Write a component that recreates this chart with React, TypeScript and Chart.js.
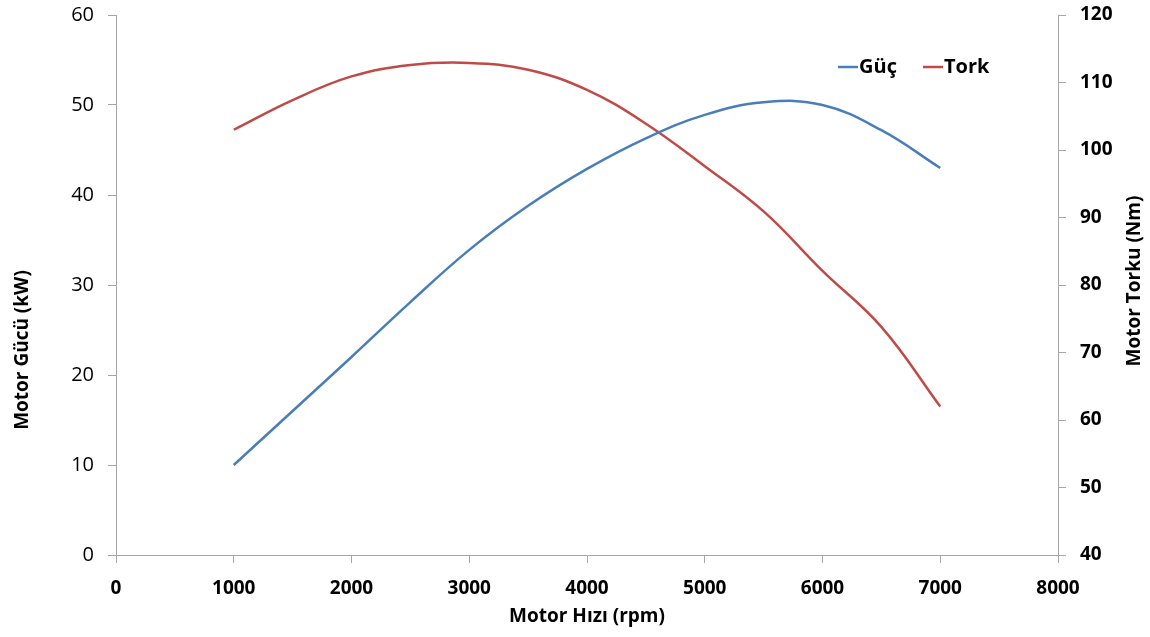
import React, { useEffect, useRef } from "react";
import { Chart, registerables } from "chart.js";

Chart.register(...registerables);

const rpm = [1000, 1500, 2000, 2500, 3000, 3500, 4000, 4500, 5000, 5500, 6000, 6500, 7000];
const powerKW = [10.0, 16.0, 22.0, 28.1, 33.9, 38.8, 42.9, 46.3, 48.9, 50.3, 50.0, 47.2, 43.0];
const torqueNm = [103.0, 107.4, 110.9, 112.6, 112.9, 111.9, 108.9, 103.9, 97.6, 90.9, 82.1, 73.8, 62.0];
const seriesNames = ["Güç", "Tork"];
const xTitle = "Motor Hızı (rpm)";
const yLeftTitle = "Motor Gücü (kW)";
const yRightTitle = "Motor Torku (Nm)";

const BLUE = "#4A7EBB";
const RED = "#BE4B48";
const AXIS = "#A6A6A6";
const FONT = '"Open Sans", "Noto Sans", sans-serif';

const overlayPlugin = {
  id: "overlay",
  afterDraw(chart: any) {
    const ctx = chart.ctx;
    ctx.save();
    ctx.fillStyle = "#000";
    ctx.font = `bold 19px ${FONT}`;
    ctx.textAlign = "center";
    ctx.textBaseline = "middle";
    const ca = chart.chartArea;
    ctx.fillText(xTitle, (ca.left + ca.right) / 2, 617);
    ctx.save();
    ctx.translate(23, 350);
    ctx.rotate(-Math.PI / 2);
    ctx.fillText(yLeftTitle, 0, 0);
    ctx.restore();
    ctx.save();
    ctx.translate(1135, 281);
    ctx.rotate(-Math.PI / 2);
    ctx.fillText(yRightTitle, 0, 0);
    ctx.restore();
    // legend
    const items = [
      { x: 838, color: chart.data.datasets[0].borderColor, label: chart.data.datasets[0].label },
      { x: 923, color: chart.data.datasets[1].borderColor, label: chart.data.datasets[1].label },
    ];
    ctx.textAlign = "left";
    ctx.font = `bold 20px ${FONT}`;
    for (const it of items) {
      ctx.strokeStyle = it.color;
      ctx.lineWidth = 2.5;
      ctx.beginPath();
      ctx.moveTo(it.x, 67);
      ctx.lineTo(it.x + 20, 67);
      ctx.stroke();
      ctx.fillText(it.label, it.x + 21, 67);
    }
    ctx.restore();
  },
};

export default function App() {
  const ref = useRef<HTMLCanvasElement>(null);
  useEffect(() => {
    if (!ref.current) return;
    const chart = new Chart(ref.current, {
      type: "line",
      data: {
        datasets: [
          {
            label: seriesNames[0],
            data: rpm.map((r, i) => ({ x: r, y: powerKW[i] })),
            borderColor: BLUE,
            backgroundColor: BLUE,
            borderWidth: 2.5,
            pointRadius: 0,
            tension: 0.4,
            yAxisID: "y",
          },
          {
            label: seriesNames[1],
            data: rpm.map((r, i) => ({ x: r, y: torqueNm[i] })),
            borderColor: RED,
            backgroundColor: RED,
            borderWidth: 2.5,
            pointRadius: 0,
            tension: 0.4,
            yAxisID: "y1",
          },
        ],
      },
      options: {
        responsive: false,
        animation: false,
        layout: { padding: { top: 15, left: 0, right: 0, bottom: 0 } },
        plugins: { legend: { display: false }, tooltip: { enabled: false } },
        scales: {
          x: {
            type: "linear",
            min: 0,
            max: 8000,
            ticks: {
              stepSize: 1000,
              color: "#000",
              font: { family: FONT, size: 19, weight: "bold" },
              padding: 14,
              maxRotation: 0,
              callback: (v: any) => String(v),
            },
            grid: { drawOnChartArea: false, drawTicks: true, tickLength: 8, color: AXIS },
            border: { display: true, color: AXIS, width: 1 },
            afterFit(scale: any) {
              scale.height = 82;
              scale.paddingLeft = 0;
              scale.paddingRight = 0;
            },
          },
          y: {
            position: "left",
            min: 0,
            max: 60,
            ticks: {
              stepSize: 10,
              color: "#000",
              font: { family: FONT, size: 20 },
              padding: 14,
            },
            grid: { drawOnChartArea: false, drawTicks: true, tickLength: 8, color: AXIS },
            border: { display: true, color: AXIS, width: 1 },
            afterFit(scale: any) {
              scale.width = 116;
              scale.paddingTop = 0;
              scale.paddingBottom = 0;
            },
          },
          y1: {
            position: "right",
            min: 40,
            max: 120,
            ticks: {
              stepSize: 10,
              color: "#000",
              font: { family: FONT, size: 19, weight: "bold" },
              padding: 14,
            },
            grid: { drawOnChartArea: false, drawTicks: true, tickLength: 8, color: AXIS },
            border: { display: true, color: AXIS, width: 1 },
            afterFit(scale: any) {
              scale.width = 92;
              scale.paddingTop = 0;
              scale.paddingBottom = 0;
            },
          },
        },
      },
      plugins: [overlayPlugin],
    } as any);
    return () => chart.destroy();
  }, []);
  return (
    <div style={{ position: "absolute", left: 0, top: 0, width: 1150, height: 637, background: "#fff" }}>
      <canvas ref={ref} width={1150} height={637} />
    </div>
  );
}
